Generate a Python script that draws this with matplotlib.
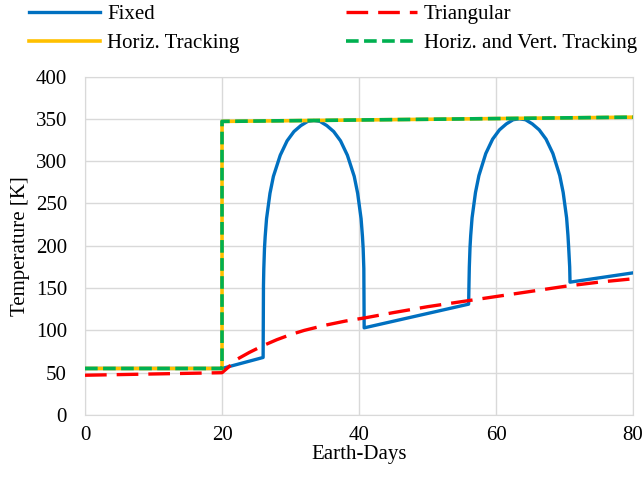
import matplotlib
matplotlib.use('Agg')
from matplotlib import pyplot as plt

plt.rcParams['font.family'] = ['Liberation Serif', 'DejaVu Serif']

# Fixed panel: flat, slow warm-up, two sunlit arcs
fixed_days = [0, 20, 26.0, 26.05, 26.1, 26.2, 26.3, 26.5, 27.0, 27.5, 28.5, 29.5, 30.5, 31.5,
              32.5, 33.4, 34.3, 35.3, 36.3, 37.3, 38.3, 39.3, 39.8, 40.3, 40.5, 40.6, 40.7,
              40.75, 56.0, 56.05, 56.1, 56.2, 56.3, 56.5, 57.0, 57.5, 58.5, 59.5, 60.5, 61.5,
              62.5, 63.4, 64.3, 65.3, 66.3, 67.3, 68.3, 69.3, 69.8, 70.3, 70.5, 70.6, 70.75,
              70.8, 80]
fixed_temp = [55, 55, 68, 153, 173, 197, 211, 232, 262, 282, 307, 324, 335, 342,
              347, 348, 347, 342, 335, 324, 307, 282, 262, 232, 211, 197, 173,
              103, 131, 155, 175, 198, 212, 233, 263, 283, 309, 326, 337, 344,
              349, 350, 349, 344, 337, 326, 309, 283, 263, 233, 212, 198, 175,
              157, 168]

tri_days = [0, 20, 21, 22, 24, 26, 28, 30, 32, 35, 38, 41, 45, 50, 55, 60, 65, 70, 75, 80]
tri_temp = [47, 50, 57, 65, 74, 82, 89, 95, 100, 106, 111, 115, 121, 128, 134, 140, 146, 152, 157, 161]

track_days = [0, 20, 20, 80]
horiz_temp = [55, 55, 347, 352]
hv_temp = [55, 55, 347, 352]

fig = plt.figure(figsize=(6.44, 4.79), dpi=100)
ax = fig.add_axes([0.132, 0.1336, 0.851, 0.7066])

l1, = ax.plot(fixed_days, fixed_temp, color='#0070C0', lw=2.4, label='Fixed', zorder=3)
l2, = ax.plot(tri_days, tri_temp, color='#FF0000', lw=2.4, dashes=(6.5, 3), label='Triangular', zorder=4)
l3, = ax.plot(track_days, horiz_temp, color='#FFC000', lw=2.6, label='Horiz. Tracking', zorder=5)
l4, = ax.plot(track_days, hv_temp, color='#00B050', lw=2.6, dashes=(3.5, 1.5),
              label='Horiz. and Vert. Tracking', zorder=6)

ax.set_xlim(0, 80)
ax.set_ylim(0, 400)
ax.set_xticks(range(0, 81, 20))
ax.set_yticks(range(0, 401, 50))
ax.grid(True, color='#D9D9D9', lw=1)
ax.set_axisbelow(True)
for s in ax.spines.values():
    s.set_color('#D9D9D9')
ax.tick_params(length=0, labelsize=15)
ax.tick_params(axis='y', pad=13)
ax.tick_params(axis='x', pad=8)
ax.set_xlabel('Earth-Days', fontsize=15, labelpad=0)
ax.set_ylabel('Temperature [K]', fontsize=15, labelpad=4)

# column-major fill: Fixed / Horiz. in col 1, Triangular / H&V in col 2
fig.legend(handles=[l1, l3, l2, l4], loc='upper left', bbox_to_anchor=(0.045, 0.99), ncol=2,
           frameon=False, fontsize=15, handlelength=3.4, handletextpad=0.35,
           columnspacing=5.1, labelspacing=0.45, borderpad=0, borderaxespad=0)

fig.savefig('out.png', dpi=100)
